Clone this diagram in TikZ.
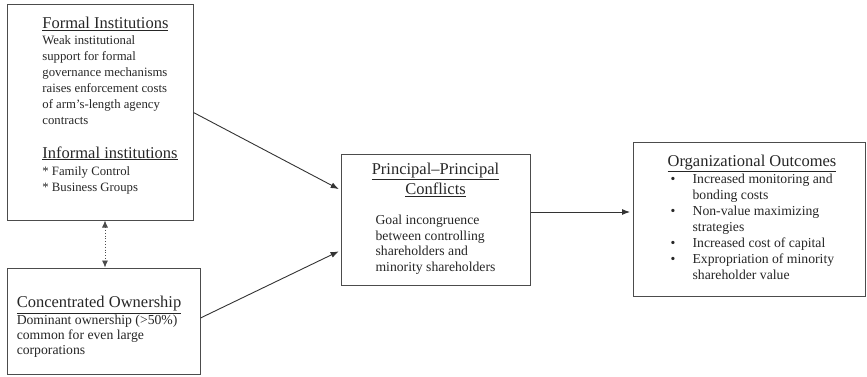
\documentclass[tikz,border=0pt]{standalone}
\usepackage{fontspec}
\setmainfont{Liberation Serif}
\usepackage{tikz}
\usetikzlibrary{arrows.meta,positioning,calc}

\newcommand{\hdr}[1]{{\fontsize{16.5}{16}\selectfont\underline{#1}}}
\newcommand{\bul}{\makebox[25pt][l]{\hspace{3pt}\textbullet}}

\tikzset{
    box/.style={draw=black!70, line width=1pt, rectangle, inner sep=0pt,
        text=black!85, font=\fontsize{13.7}{16}\selectfont},
    link/.style={black!80, line width=0.9pt, -{Latex[length=8pt,width=6pt]}}
}

\begin{document}
\begin{tikzpicture}[x=1pt,y=-1pt]
    \useasboundingbox (0,0) rectangle (867,377);

    % Formal and informal institutions
    \node[box, minimum width=186pt, minimum height=215pt, font=\fontsize{12.75}{16}\selectfont] (fi) at (100,112.5)
        {\begin{tabular}{@{\hspace{20pt}}l@{}}
         \hdr{Formal Institutions}\\
         Weak institutional\\
         support for formal\\
         governance mechanisms\\
         raises enforcement costs\\
         of arm’s-length agency\\
         contracts\\[17pt]
         \hdr{Informal institutions}\\[1pt]
         {*} Family Control\\
         {*} Business Groups\\[12pt]
         \end{tabular}};

    % Concentrated ownership
    \node[box, minimum width=193pt, minimum height=106pt, font=\fontsize{13.7}{15}\selectfont] (co) at (103.5,321)
        {\begin{tabular}{@{}l@{\hspace{9pt}}}
         \rule{0pt}{24.5pt}\hdr{Concentrated Ownership}\\
         Dominant ownership (>50\%)\\
         common for even large\\
         corporations
         \end{tabular}};

    % Principal-principal conflicts
    \node[box, minimum width=189pt, minimum height=131pt, align=center] (pp) at (435.5,219.5)
        {\hdr{Principal–Principal}\\[2pt]
         \hdr{Conflicts}\\[16pt]
         {\fontsize{13.7}{15.5}\selectfont
         \begin{tabular}{@{}l@{}}
         Goal incongruence\\
         between controlling\\
         shareholders and\\
         minority shareholders
         \end{tabular}}};

    % Organizational outcomes
    \node[box, minimum width=232pt, minimum height=153pt] (oo) at (749.5,219.5)
        {\begin{tabular}{@{\hspace{5pt}}l@{}l@{}}
         \multicolumn{2}{@{\hspace{5pt}}l@{}}{\hdr{Organizational Outcomes}}\\
         \bul & Increased monitoring and\\
              & bonding costs\\
         \bul & Non-value maximizing\\
              & strategies\\
         \bul & Increased cost of capital\\
         \bul & Expropriation of minority\\
              & shareholder value
         \end{tabular}};

    % Connectors
    \draw[link, shorten >=2pt] (fi.east) -- ([yshift=29.5pt]pp.west);
    \draw[link, shorten >=2pt] ([yshift=3pt]co.east) -- ([yshift=-31pt]pp.west);
    \draw[link, shorten >=3pt] ([yshift=7.5pt]pp.east) -- ([yshift=7.5pt]pp.east -| oo.west);
    \draw[black!70, line width=0.8pt, dotted, {Latex[length=7pt,width=6pt]}-{Latex[length=7pt,width=6pt]}]
        ([xshift=5pt]fi.south) -- ([xshift=5pt]fi.south |- co.north);
\end{tikzpicture}
\end{document}
